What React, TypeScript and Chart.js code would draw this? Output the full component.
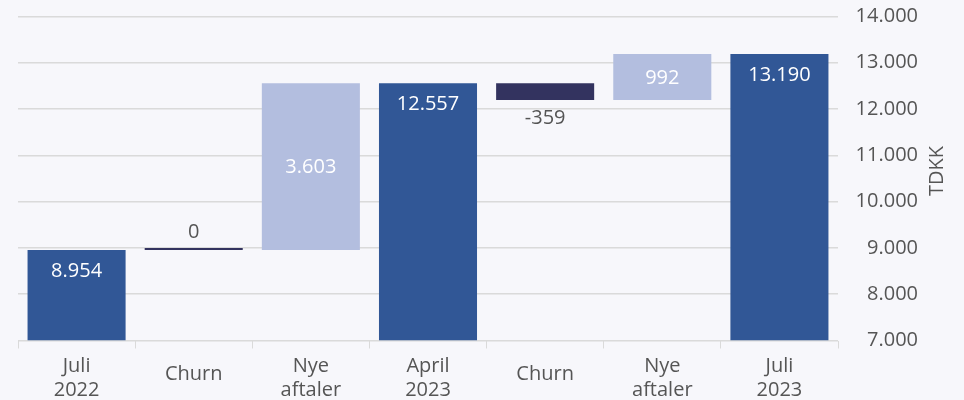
import React, { useEffect, useRef } from "react";
import { Chart, registerables } from "chart.js";

Chart.register(...registerables);

const categories: (string | string[])[] = [
  ["Juli", "2022"],
  "Churn",
  ["Nye", "aftaler"],
  ["April", "2023"],
  "Churn",
  ["Nye", "aftaler"],
  ["Juli", "2023"],
];
const values = [8954, 0, 3603, 12557, -359, 992, 13190];
const kinds = ["total", "delta", "delta", "total", "delta", "delta", "total"];
const yTicks = [7000, 8000, 9000, 10000, 11000, 12000, 13000, 14000];
const yTitle = "TDKK";

const BG = "#f7f7fb";
const DARK = "#315796";
const LIGHT = "#b3bedf";
const NAVY = "#33335f";
const TEXT = "#555555";
const GRID = "#dadada";
const FONT = "'Open Sans', sans-serif";

const fmt = (v: number) => {
  const s = Math.abs(Math.round(v)).toString().replace(/\B(?=(\d{3})+(?!\d))/g, ".");
  return (v < 0 ? "-" : "") + s;
};

export default function App() {
  const ref = useRef<HTMLCanvasElement>(null);
  useEffect(() => {
    document.body.style.margin = "0";
    document.body.style.background = BG;
    const yMin = yTicks[0];
    const yMax = yTicks[yTicks.length - 1];
    let running = 0;
    const ranges: [number, number][] = values.map((v, i) => {
      if (kinds[i] === "total") {
        running = v;
        return [yMin, v];
      }
      const r: [number, number] = [running, running + v];
      running += v;
      return r;
    });
    const colors = values.map((v, i) =>
      kinds[i] === "total" ? DARK : v > 0 ? LIGHT : NAVY
    );

    const labelPlugin = {
      id: "wfLabels",
      afterDatasetsDraw(chart: any) {
        const ctx = chart.ctx;
        const ys = chart.scales.y;
        const meta = chart.getDatasetMeta(0);
        ctx.save();
        ctx.font = `20px ${FONT}`;
        ctx.textAlign = "center";
        ctx.textBaseline = "middle";
        meta.data.forEach((el: any, i: number) => {
          const [a, b] = ranges[i];
          const top = ys.getPixelForValue(Math.max(a, b));
          const bot = ys.getPixelForValue(Math.min(a, b));
          const v = values[i];
          const t = fmt(v);
          if (kinds[i] === "total") {
            ctx.fillStyle = "#ffffff";
            ctx.fillText(t, el.x, top + 21);
          } else if (v > 0) {
            ctx.fillStyle = "#ffffff";
            ctx.fillText(t, el.x, (top + bot) / 2 + 1);
          } else if (v === 0) {
            ctx.fillStyle = TEXT;
            ctx.fillText(t, el.x, top - 18);
          } else {
            ctx.fillStyle = TEXT;
            ctx.fillText(t, el.x, bot + 18);
          }
        });
        ctx.restore();
      },
      afterDraw(chart: any) {
        const ctx = chart.ctx;
        const area = chart.chartArea;
        ctx.save();
        ctx.font = `20px ${FONT}`;
        ctx.fillStyle = TEXT;
        ctx.textAlign = "center";
        ctx.textBaseline = "middle";
        ctx.translate(937, (area.top + area.bottom) / 2 - 7.5);
        ctx.rotate(-Math.PI / 2);
        ctx.fillText(yTitle, 0, 0);
        ctx.restore();
      },
    };

    const chart = new Chart(ref.current!, {
      type: "bar",
      data: {
        labels: categories,
        datasets: [
          {
            data: ranges as any,
            backgroundColor: colors,
            borderWidth: 0,
            minBarLength: 2,
            categoryPercentage: 1,
            barPercentage: 0.837,
          },
        ],
      },
      options: {
        responsive: false,
        animation: false,
        layout: { padding: { left: 18, top: 16.5, right: 46, bottom: 0 } },
        plugins: {
          legend: { display: false },
          tooltip: { enabled: false },
        },
        scales: {
          x: {
            grid: {
              display: true,
              offset: true,
              drawOnChartArea: false,
              drawTicks: true,
              tickLength: 8,
              color: GRID,
            },
            border: { display: false },
            ticks: {
              font: (c: any) => ({
                family: FONT,
                size: 20,
                lineHeight: c.tick && Array.isArray(c.tick.label) ? 1.2 : 1.6,
              }),
              color: TEXT,
              padding: 18,
              crossAlign: "center",
              maxRotation: 0,
              autoSkip: false,
            },
            afterFit: (s: any) => {
              s.height = 59.5;
              s.paddingLeft = 0;
              s.paddingRight = 0;
            },
          },
          y: {
            position: "right",
            min: yMin,
            max: yMax,
            grid: { color: GRID, drawTicks: false, lineWidth: 1.5 },
            border: { display: false },
            ticks: {
              stepSize: 1000,
              font: { family: FONT, size: 20 },
              color: TEXT,
              crossAlign: "far",
              padding: 10,
              callback: (v: any) => fmt(Number(v)),
            },
            afterFit: (s: any) => {
              s.width = 80;
              s.paddingTop = 0;
              s.paddingBottom = 0;
            },
          },
        },
      },
      plugins: [labelPlugin],
    });
    return () => chart.destroy();
  }, []);
  return (
    <div style={{ width: 964, height: 400, background: BG }}>
      <canvas ref={ref} width={964} height={400} style={{ display: "block" }} />
    </div>
  );
}
